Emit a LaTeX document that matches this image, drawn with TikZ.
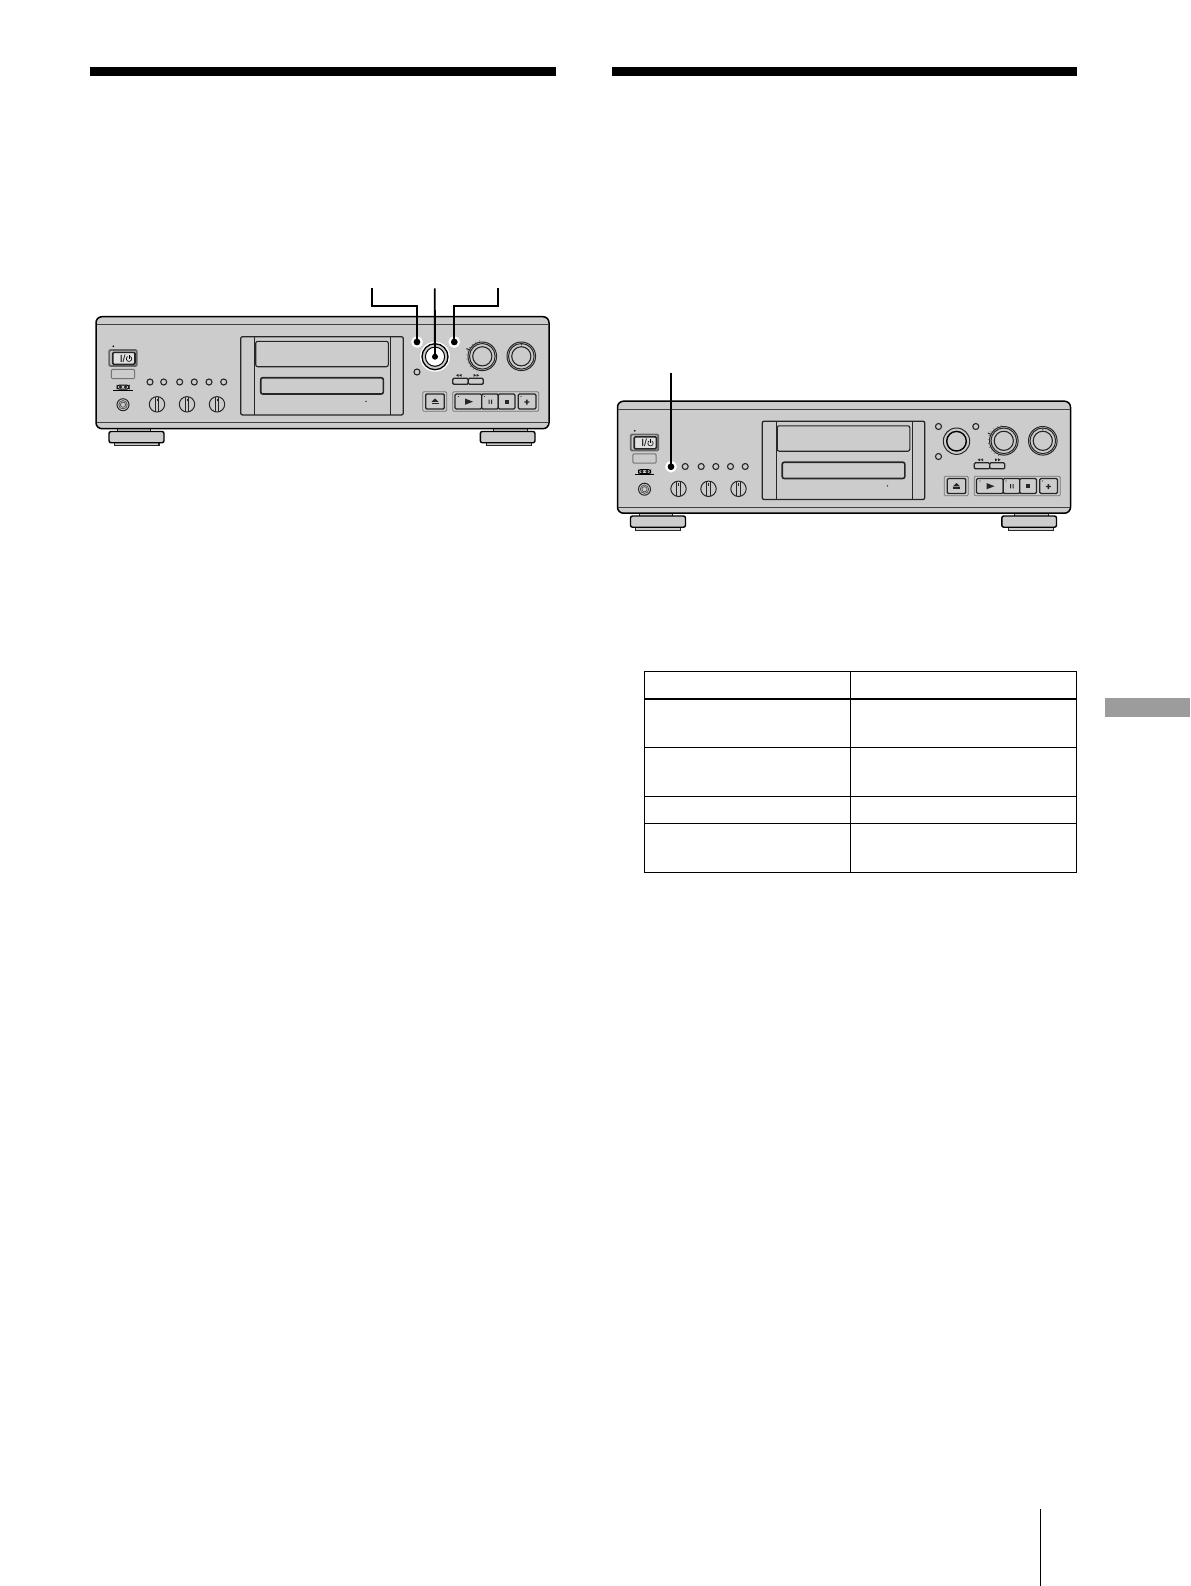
\documentclass[tikz,border=0pt]{standalone}
\usepackage{fontspec}
\setmainfont{Liberation Sans}
\definecolor{panel}{gray}{0.80}
\definecolor{tabgray}{gray}{0.61}
\tikzset{
  x=0.5pt,y=-0.5pt,
  bar/.style={fill=black,draw=none},
  body/.style={draw=black,line width=0.75pt,fill=panel,rounded corners=3pt},
  thin line/.style={draw=black!75,line width=0.4pt},
  mid line/.style={draw=black!85,line width=0.55pt},
  knobline/.style={draw=black!85,line width=0.5pt},
  callout/.style={draw=black,line width=0.95pt},
  grid line/.style={draw=black,line width=0.5pt},
  led/.style={circle,draw=black!85,line width=0.55pt,fill=panel,minimum size=3pt,inner sep=0pt},
  hotdot/.style={circle,fill=black,draw=white,line width=1.1pt,minimum size=4.7pt,inner sep=0pt},
  btn/.style={draw=black!85,line width=0.65pt,fill=panel,rounded corners=0.6pt},
}
\newcommand{\lowerknob}[1]{%
  \draw[knobline,fill=panel] (#1,404.3) circle (7.7);
  \draw[knobline] (#1-1.7,397) -- (#1-1.7,411.6) (#1+1.7,397) -- (#1+1.7,411.6);
  \fill[black!85] (#1-0.4,398.5) rectangle (#1+0.4,401);
}
\newcommand{\dial}[2]{%
  \draw[knobline,fill=panel] (#1,#2) circle (14.3);
  \draw[knobline] (#1,#2) circle (12.8);
  \draw[mid line,fill=panel] (#1,#2) circle (9.6);
}
% #1 x-shift, #2 y-shift, #3 name prefix
\newcommand{\deck}[3]{%
\begin{scope}[shift={(#1,#2)}]
  % feet
  \draw[mid line,fill=panel] (117.7,428) rectangle (150.7,432);
  \draw[mid line,fill=panel] (493.3,428) rectangle (527.3,432);
  \draw[mid line,fill=panel] (114.3,441) rectangle (159,445.7);
  \draw[mid line,fill=panel] (486.7,441) rectangle (531.7,445.7);
  \draw[body,rounded corners=1pt,line width=0.7pt] (109,431.5) rectangle (164,442.7);
  \draw[body,rounded corners=1pt,line width=0.7pt] (480.3,431.5) rectangle (535,442.7);
  % body
  \draw[body] (96,316.7) rectangle (549,428.7);
  \draw[thin line] (96.5,324.7) -- (548.5,324.7) (96.5,422.7) -- (548.5,422.7);
  % power
  \fill[black] (113.3,346.3) circle (0.9);
  \draw[btn,draw=black!60,line width=0.9pt,fill=panel] (109.3,350) rectangle (136.7,366);
  \draw[btn,line width=0.8pt,fill=black!12] (112.7,352.3) rectangle (135,364.3);
  \node[font=\fontsize{5.2}{5.2}\selectfont,inner sep=0pt,anchor=east] (#3power) at (126,358.3) {I/};
  \draw[black,line width=0.3pt] (130.35,356.46) arc[start angle=-60,end angle=240,radius=2.7];
  \draw[black,line width=0.3pt] (129,354.8) -- (129,358.6);
  \draw[btn,draw=black!55,line width=0.5pt] (111.3,369.3) rectangle (134.7,378.7);
  % logo
  \draw[black,line width=0.5pt] (113.3,390.3) -- (132.7,390.3);
  \draw[black,line width=0.5pt,rounded corners=1pt] (117,385.2) rectangle (129,389);
  \draw[black,line width=0.35pt] (120.5,387) circle (1.2) (125.5,387) circle (1.2);
  % jack
  \draw[knobline,fill=panel] (123,404.7) circle (6);
  \draw[draw=black!70,line width=0.35pt] (123,404.7) circle (4.2);
  \draw[draw=black!70,line width=0.35pt] (123,404.7) circle (2.6);
  % leds
  \foreach \x/\n in {150/a,163.7/b,179.7/c,194.3/d,209/e,223.7/f}
    \node[led] (#3led\n) at (\x,382) {};
  \lowerknob{157}
  \lowerknob{187}
  \lowerknob{217}
  % tray
  \draw[draw=black!85,line width=0.65pt,rounded corners=1pt] (240.7,336.7) rectangle (403.3,415);
  \draw[mid line] (254.7,337) -- (254.7,415) (390.7,337) -- (390.7,415);
  \draw[mid line,rounded corners=1pt] (255.7,341.3) rectangle (388.3,366.7);
  \draw[draw=black!85,line width=0.8pt,rounded corners=1pt] (260.7,377.7) rectangle (383.3,394);
  \fill[black!85] (366,401.3) circle (0.8);
  % right block
  \draw[knobline,fill=panel] (435,356.7) circle (13.2);
  \draw[line width=0.7pt,black,fill=panel] (435,356.7) circle (9.8);
  \node[led] (#3tl) at (417,342) {};
  \node[led] (#3tr) at (454.3,342) {};
  \node[led] (#3low) at (417,372) {};
  \dial{482.3}{356.3}
  \draw[knobline] (466.4,348.6) -- (469,349.6);
  \foreach \a in {100,115,...,250} \draw[black!70,line width=0.25pt] (482.3,356.3) ++(-\a:15.2) -- ++(-\a:0.9);
  \dial{521.3}{356.3}
  \fill[black!85] (521.3,344.7) circle (0.7);
  \draw[btn,draw=black!85] (452.7,378.3) rectangle (468.3,384.3);
  \draw[btn,draw=black!85] (468.3,378.3) rectangle (483.3,384.3);
  \fill[black!85] (458.7,373.8) -- (456,375.3) -- (458.7,376.8) -- cycle (461.7,373.8) -- (459,375.3) -- (461.7,376.8) -- cycle;
  \fill[black!85] (473.5,373.8) -- (476.2,375.3) -- (473.5,376.8) -- cycle (476.5,373.8) -- (479.2,375.3) -- (476.5,376.8) -- cycle;
  % eject
  \draw[btn,draw=black!55,line width=0.4pt] (422.7,391.7) rectangle (446.7,411.3);
  \draw[btn] (425.7,394) rectangle (444.3,409);
  \fill[black!85] (435,398.5) -- (431.5,401.8) -- (438.5,401.8) -- cycle;
  \fill[black!85] (431.5,402.8) rectangle (438.5,404.3);
  % transport
  \draw[btn,draw=black!55,line width=0.4pt] (452.7,391.7) rectangle (538.7,411.3);
  \draw[btn] (455,394) rectangle (481.7,409);
  \draw[btn] (481.7,394) rectangle (498.3,409);
  \draw[btn] (498.3,394) rectangle (515,409);
  \draw[btn] (518.3,394) rectangle (536,409);
  \fill[black!85] (465,398.5) -- (473,401.7) -- (465,404.8) -- cycle;
  \fill[black!85] (488.5,399.5) rectangle (489.7,403.8) (491,399.5) rectangle (492.2,403.8);
  \fill[black!85] (504.5,399.5) rectangle (508.8,403.8);
  \fill[black!85] (526.2,399.5) rectangle (527.6,404.5) (524.4,401.4) rectangle (529.4,402.6);
  \foreach \x in {458.5,484.5,521} \fill[black!80] (\x,396.5) circle (0.6);
\end{scope}}
\begin{document}
\begin{tikzpicture}
\useasboundingbox (0,0) rectangle (1190,1586);
\fill[white] (0,0) rectangle (1190,1586);
% heading rules
\fill[bar] (90,67) rectangle (555.5,75.5);
\fill[bar] (612,67) rectangle (1077,75.5);
% decks
\deck{0}{0}{p}
\deck{521.5}{84.5}{q}
% highlights, upper deck
\node[hotdot] (p1) at (417,342) {};
\node[hotdot] (p3) at (454.3,342) {};
\fill[white] (435,356.7) circle (15);
\draw[black,line width=0.65pt,fill=panel] (435,356.7) circle (13);
\draw[black,line width=0.5pt,fill=white] (435,356.7) circle (9.6);
\node[circle,fill=black,minimum size=3pt,inner sep=0pt] (p2) at (435,356.7) {};
% highlight, lower deck
\node[hotdot] (q1) at (671,466.7) {};
% call-outs
\coordinate (ca) at (372,288.3);
\coordinate (cb) at (434.7,288.3);
\coordinate (cc) at (498,288.3);
\coordinate (cd) at (671,372.7);
\draw[callout] (ca) -- (372,305.7) -| (p1.center);
\draw[callout] (cb) -- (p2.center);
\draw[callout] (cc) -- (498,305.7) -| (p3.center);
\draw[callout] (cd) -- (q1.center);
% table
\draw[grid line] (644.5,671.5) rectangle (1076,872);
\draw[grid line] (850,671.5) -- (850,872);
\draw[black,line width=1pt] (644.5,699) -- (1076,699);
\draw[grid line] (644.5,747.5) -- (1076,747.5) (644.5,796) -- (1076,796) (644.5,823.5) -- (1076,823.5);
% side tab
\fill[tabgray] (1105,698) rectangle (1190,717);
% folio rule
\draw[black,line width=0.5pt] (1040.5,1509) -- (1040.5,1586);
\end{tikzpicture}
\end{document}
